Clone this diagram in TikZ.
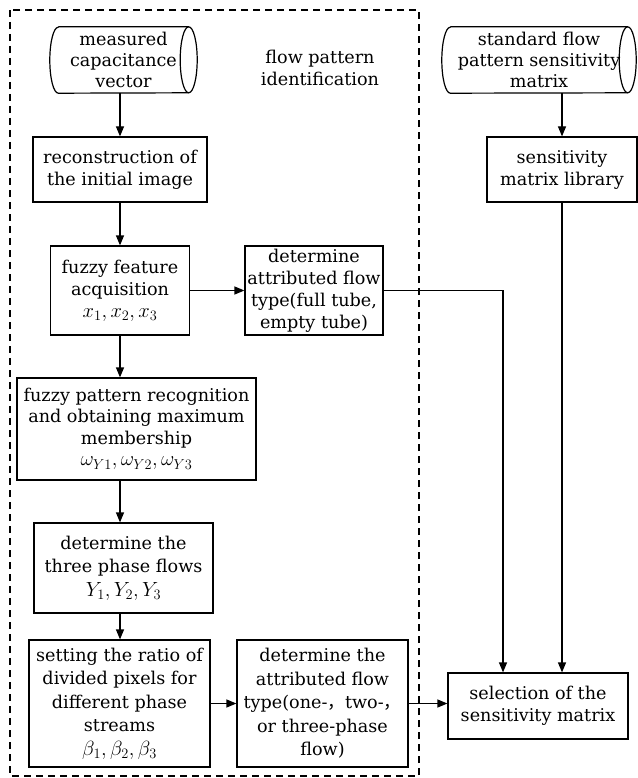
\RequirePackage{fix-cm}
\documentclass[tikz,border=0pt]{standalone}
\usepackage{fontspec}
\setmainfont{DejaVu Serif}
\newfontfamily\cjk{Noto Sans CJK SC}
\usetikzlibrary{arrows.meta}
\newcommand{\mth}[1]{{\fontsize{20.5}{22}\selectfont$#1$}}
\begin{document}
\begin{tikzpicture}[x=1pt,y=-1pt,
  txt/.style={align=center, inner sep=0pt, font=\fontsize{17.6}{22}\selectfont},
  box/.style={txt, draw, line width=1.2pt, rectangle},
  cylbox/.style={txt, rectangle, font=\fontsize{17.6}{21}\selectfont},
  ln/.style={line width=1.2pt},
  arr/.style={line width=1.2pt, -{Triangle[length=10pt,width=8pt]}},
  frame/.style={line width=1.3pt, dash pattern=on 7pt off 5pt}]
\useasboundingbox (0,0) rectangle (637,778);
\draw[frame] (10,10) rectangle (419,776);

\node[cylbox, minimum width=147pt, minimum height=66pt] (cyl1) at (123.5,60) {measured\\capacitance\\vector};
\node[txt] (lab) at (320,68) {flow pattern\\identification};
\node[box, minimum width=174pt, minimum height=65pt] (recon) at (120,169.5) {reconstruction of\\the initial image};
\node[box, minimum width=139pt, minimum height=89pt] (fuzzy) at (120,290.5) {fuzzy feature\\acquisition\\\mth{x_1, x_2, x_3}};
\node[box, minimum width=138pt, minimum height=89pt] (det1) at (314,290.5) {determine\\attributed flow\\type(full tube,\\empty tube)};
\node[box, minimum width=239pt, minimum height=102pt, font=\fontsize{17.6}{21.5}\selectfont] (fpr) at (136.5,429) {fuzzy pattern recognition\\and obtaining maximum\\membership\\\mth{\omega_{Y1}, \omega_{Y2}, \omega_{Y3}}};
\node[box, minimum width=179pt, minimum height=90pt, font=\fontsize{17.6}{23.5}\selectfont] (det3) at (123.5,568) {determine the\\three phase flows\\\mth{Y_1, Y_2, Y_3}};
\node[box, minimum width=181pt, minimum height=127pt, font=\fontsize{17.6}{23.5}\selectfont] (set) at (119.5,703.5) {setting the ratio of\\divided pixels for\\different phase\\streams\\\mth{\beta_1, \beta_2, \beta_3}};
\node[box, minimum width=171pt, minimum height=127pt, font=\fontsize{17.6}{23.5}\selectfont] (det2) at (322.5,703.5) {determine the\\attributed flow\\type(one-{\cjk ，}two-{\cjk ，}\\or three-phase\\flow)};
\node[box, minimum width=180pt, minimum height=66pt] (sel) at (538,706) {selection of the\\sensitivity matrix};
\node[cylbox, minimum width=194pt, minimum height=66pt] (cyl2) at (539,60) {standard flow\\pattern sensitivity\\matrix};
\node[box, minimum width=150pt, minimum height=65pt] (lib) at (562,169.5) {sensitivity\\matrix library};

% cylinder outlines
\foreach \c in {cyl1,cyl2}{
  \draw[ln] ([xshift=8.5pt]\c.north west) -- ([xshift=-8.5pt]\c.north east)
    arc[start angle=90,end angle=-90,x radius=8.5pt,y radius=33pt]
    -- ([xshift=8.5pt]\c.south west)
    arc[start angle=270,end angle=90,x radius=8.5pt,y radius=33pt];
  \draw[ln] ([xshift=-8.5pt]\c.north east)
    arc[start angle=90,end angle=270,x radius=8.5pt,y radius=33pt];
}

\coordinate (c1) at (503,290.5);

\draw[arr] (cyl1.south -| recon.north) -- (recon.north);
\draw[arr] (recon.south) -- (recon.south |- fuzzy.north);
\draw[arr] (fuzzy.east) -- (det1.west);
\draw[arr] (det1.east) -- (c1) -- (c1 |- sel.north);
\draw[arr] (fuzzy.south) -- (fuzzy.south |- fpr.north);
\draw[arr] (fpr.south -| fuzzy.south) -- (det3.north -| fuzzy.south);
\draw[arr] (det3.south -| fuzzy.south) -- (set.north -| fuzzy.south);
\draw[arr] (set.east) -- (det2.west);
\draw[arr] (det2.east) -- (det2.east -| sel.west);
\draw[arr] (cyl2.south -| lib.south) -- (lib.north);
\draw[arr] (lib.south) -- (lib.south |- sel.north);
\end{tikzpicture}
\end{document}
